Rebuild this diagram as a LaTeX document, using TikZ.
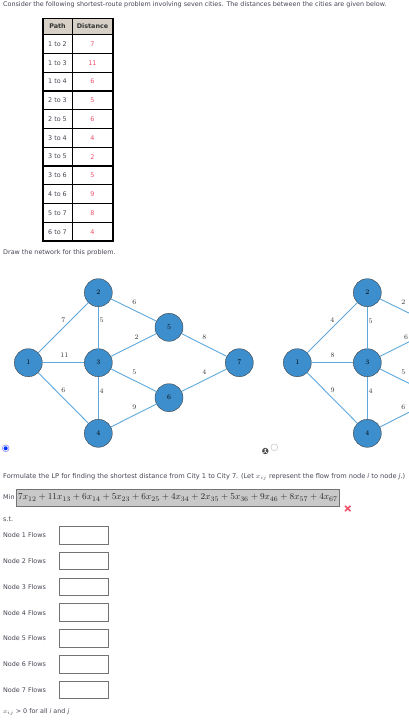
\documentclass[tikz,border=0pt]{standalone}
\usepackage{fontspec}
\setmainfont{DejaVu Sans}
\usetikzlibrary{positioning}
\DeclareMathSizes{9}{9}{7.4}{6}

\definecolor{nodeblue}{RGB}{61,142,204}
\definecolor{edgeblue}{RGB}{95,168,220}
\definecolor{txtgray}{RGB}{70,70,84}
\definecolor{distred}{RGB}{238,82,108}
\definecolor{headbg}{RGB}{214,208,198}
\definecolor{boxgray}{RGB}{201,201,201}

\begin{document}
\begin{tikzpicture}[x=1pt,y=-1pt,
  txt/.style={anchor=west,inner sep=0pt,text=txtgray,font=\fontsize{6.4}{7}\selectfont},
  celltxt/.style={inner sep=0pt,font=\fontsize{6.4}{7}\selectfont},
  city/.style={circle,draw=black!75,fill=nodeblue,minimum size=28pt,inner sep=0pt,font=\fontsize{7}{8}\selectfont},
  road/.style={edgeblue,line width=0.9pt},
  cost/.style={inner sep=0pt,text=black!80,font=\fontsize{7}{8}\selectfont},
  flowbox/.style={draw=black!55,line width=1pt,minimum width=49pt,minimum height=17.5pt,anchor=west,inner sep=0pt}]

\useasboundingbox[fill=white] (0,0) rectangle (409,728);

\node[txt] (intro) at (3,5) [] {Consider the following shortest-route problem involving seven cities. The distances between the cities are given below.};

% table
\fill[headbg] (43,18.5) rectangle (113,34.7);
\node[celltxt,text=black!80] (hpath) at (57.5,26.6) [] {\bfseries Path};
\node[celltxt,text=black!80] (hdist) at (92.5,26.6) [] {\bfseries Distance};
\foreach \p/\d [count=\i] in {1 to 2/7, 1 to 3/11, 1 to 4/6, 2 to 3/5, 2 to 5/6, 3 to 4/4, 3 to 5/2, 3 to 6/5, 4 to 6/9, 5 to 7/8, 6 to 7/4}{
  \node[celltxt,text=txtgray] (p\i) at (57.5,{34.7+18.76*(\i-0.5)}) [] {\p};
  \node[celltxt,text=distred] (d\i) at (92.5,{34.7+18.76*(\i-0.5)}) [] {\d};
  \draw[line width=1.2pt] (43,{34.7+18.76*(\i-1)}) -- (113,{34.7+18.76*(\i-1)});
}
\draw[line width=1.3pt] (43,18.5) rectangle (113,241);
\draw[line width=1.2pt] (72.3,18.5) -- (72.3,241);

\node[txt] (drawit) at (3,253) [] {Draw the network for this problem.};

% first network
\node[city] (a1) at (28.3,362.7) {$1$};
\node[city] (a2) at (98.3,292.7) {$2$};
\node[city] (a3) at (98.3,362.7) {$3$};
\node[city] (a4) at (98.3,433.3) {$4$};
\node[city] (a5) at (169,327.3) {$5$};
\node[city] (a6) at (169,397.7) {$6$};
\node[city] (a7) at (239.3,362.7) {$7$};
\foreach \u/\v in {a1/a2,a1/a3,a1/a4,a2/a3,a2/a5,a3/a4,a3/a5,a3/a6,a4/a6,a5/a7,a6/a7}
  \draw[road] (\u) -- (\v);
\node[cost] (l12) at (63.3,320) [] {$7$};
\node[cost] (l13) at (64.3,355) [] {$11$};
\node[cost] (l14) at (63.3,390) [] {$6$};
\node[cost] (l23) at (101.7,320.7) [] {$5$};
\node[cost] (l25) at (134.3,302.3) [] {$6$};
\node[cost] (l34) at (101.7,391.7) [] {$4$};
\node[cost] (l35) at (136.7,337.3) [] {$2$};
\node[cost] (l36) at (134.3,372.7) [] {$5$};
\node[cost] (l46) at (134.3,407.7) [] {$9$};
\node[cost] (l57) at (204.3,337.7) [] {$8$};
\node[cost] (l67) at (204.3,372.7) [] {$4$};

% second network, cut by the right edge
\begin{scope}
\clip (0,0) rectangle (409,728);
\coordinate (r5) at (438,327.3);
\coordinate (r6) at (438,397.7);
\node[city] (b1) at (297.3,362.7) {$1$};
\node[city] (b2) at (367.3,292.7) {$2$};
\node[city] (b3) at (367.3,362.7) {$3$};
\node[city] (b4) at (367.3,433.3) {$4$};
\foreach \u/\v in {b1/b2,b1/b3,b1/b4,b2/b3,b3/b4,b2/r5,b3/r5,b3/r6,b4/r6}
  \draw[road] (\u) -- (\v);
\node[cost] (m12) at (332.3,320) [] {$4$};
\node[cost] (m13) at (332.7,355) [] {$8$};
\node[cost] (m14) at (332.7,390) [] {$9$};
\node[cost] (m23) at (370.7,321) [] {$5$};
\node[cost] (m34) at (370.7,391.7) [] {$4$};
\node[cost] (m25) at (403.3,302.3) [] {$2$};
\node[cost] (m35) at (406,337.3) [] {$6$};
\node[cost] (m36) at (403.3,372.7) [] {$5$};
\node[cost] (m46) at (403.3,407.7) [] {$6$};
\end{scope}

% radio buttons
\draw[blue!45,line width=0.6pt,fill=white] (5.7,448.3) circle[radius=3.4];
\fill[blue!80!cyan] (5.7,448.3) circle[radius=2];
\fill[black!70] (265.3,451) circle[radius=3.2];
\fill[white] (265.3,449.8) circle[radius=1.1];
\draw[white,line width=0.6pt] (263.4,453) -- (265.3,451.4) -- (267.2,453);
\draw[black!20,line width=0.6pt,fill=white] (274.3,447.3) circle[radius=3.4];

% LP
\node[txt,font=\fontsize{6.6}{7}\selectfont] (formulate) at (3,477) [] {Formulate the LP for finding the shortest distance from City 1 to City 7. (Let $x_{ij}$ represent the flow from node \textit{i} to node \textit{j}.)};
\node[txt] (minlbl) at (3,497) [] {Min};
\node[draw=black!55,fill=boxgray,line width=0.9pt,minimum width=323pt,minimum height=17pt,anchor=west,inner sep=0pt,text=black!85] (objbox) at (16,497.5) [] {\fontsize{9}{10}\selectfont$7x_{12}+11x_{13}+6x_{14}+5x_{23}+6x_{25}+4x_{34}+2x_{35}+5x_{36}+9x_{46}+8x_{57}+4x_{67}$};
\draw[distred,line width=1.5pt] (345,505.8) -- (350.4,511.2) (345,511.2) -- (350.4,505.8);
\node[txt] (st) at (3,519) [] {s.t.};

\foreach \k in {1,...,7}{
  \node[txt] (lbl\k) at (3,{535.3+25.8*(\k-1)}) [] {Node \k\ Flows};
  \node[flowbox] (flow\k) at (59.3,{535.3+25.8*(\k-1)}) [] {};
}
\node[txt] (nonneg) at (3,712) [] {$x_{ij}$ > 0 for all \textit{i} and \textit{j}};

\end{tikzpicture}
\end{document}
